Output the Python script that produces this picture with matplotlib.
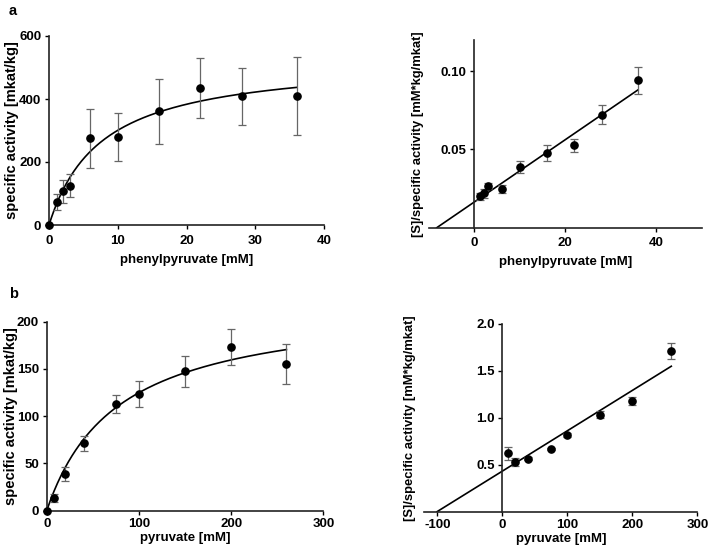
import numpy as np
import matplotlib
matplotlib.use("Agg")
import matplotlib.pyplot as plt

plt.rcParams["font.family"] = ["Liberation Sans", "DejaVu Sans"]
plt.rcParams["font.weight"] = "bold"
plt.rcParams["axes.labelweight"] = "bold"
plt.rcParams["font.size"] = 9.5
plt.rcParams["axes.unicode_minus"] = False

# ---------- dados: fenilpiruvato ----------
phe_s = [0, 1.2, 2, 3, 6, 10, 16, 22, 28, 36]
phe_v = [0, 72, 107, 125, 275, 280, 361, 436, 408, 410]
phe_err = [0, 25, 37, 37, 93, 77, 103, 95, 91, 123]
phe_vmax, phe_km = 529, 7.6

phe_hw_s = [1.2, 2, 3, 6, 10, 16, 22, 28, 36]
phe_hw = [0.0202, 0.0219, 0.0266, 0.0245, 0.0389, 0.0479, 0.0526, 0.0723, 0.0943]
phe_hw_err = [0.0023, 0.003, 0.002, 0.0025, 0.004, 0.0052, 0.0043, 0.0062, 0.0087]
phe_hw_slope, phe_hw_icpt = 0.00199, 0.0165

# ---------- dados: piruvato ----------
pyr_s = [0, 8, 20, 40, 75, 100, 150, 200, 260]
pyr_v = [0, 13.4, 38.8, 71.3, 112.9, 123.5, 147.4, 173, 155.6]
pyr_err = [0, 4.6, 7.8, 7.8, 9.2, 14.2, 16.5, 19, 21]
pyr_vmax, pyr_km = 221, 77

pyr_hw_s = [8, 20, 40, 75, 100, 150, 200, 260]
pyr_hw = [0.623, 0.534, 0.566, 0.669, 0.82, 1.032, 1.178, 1.712]
pyr_hw_err = [0.07, 0.043, 0.02, 0.015, 0.02, 0.036, 0.046, 0.09]
pyr_hw_slope, pyr_hw_icpt = 0.0043, 0.432

fig = plt.figure(figsize=(7.09, 5.53), dpi=100)
W, H = 709, 553


def eixo(left, top, right, bottom):
    return fig.add_axes([left / W, 1 - bottom / H, (right - left) / W, (bottom - top) / H])


def pontos(ax, x, y, err):
    ax.errorbar(x, y, yerr=err, fmt="none", ecolor="#666666", elinewidth=0.9,
                capsize=3.2, capthick=0.9, zorder=2, clip_on=False)
    ax.plot(x, y, "o", color="black", markersize=5.2, zorder=3, clip_on=False)


def estilo(ax, xpad=2.5):
    for s in ["top", "right"]:
        ax.spines[s].set_visible(False)
    for s in ["left", "bottom"]:
        ax.spines[s].set_linewidth(1.2)
        ax.spines[s].set_color("#222222")
    ax.tick_params(length=3, width=1.0, pad=2.5, colors="black")
    ax.tick_params(axis="x", pad=xpad)


# ---------- a: Michaelis-Menten ----------
ax1 = eixo(49, 36, 324, 225)
pontos(ax1, phe_s, phe_v, phe_err)
xs = np.linspace(0, max(phe_s), 200)
ax1.plot(xs, phe_vmax * xs / (phe_km + xs), color="black", lw=1.2, zorder=1)
ax1.set_xlim(0, 40)
ax1.set_ylim(0, 600)
ax1.set_xticks([0, 10, 20, 30, 40])
ax1.set_yticks([0, 200, 400, 600])
ax1.set_xlabel("phenylpyruvate [mM]", labelpad=4.5)
ax1.set_ylabel("specific activity [mkat/kg]", fontsize=10.5)
ax1.yaxis.set_label_coords(-0.108, 0.5)
estilo(ax1, xpad=4.5)

# ---------- a: Hanes-Woolf ----------
ax2 = eixo(429, 40, 701.7, 227.7)
pontos(ax2, phe_hw_s, phe_hw, phe_hw_err)
x0 = -phe_hw_icpt / phe_hw_slope
xl = np.array([x0, max(phe_hw_s)])
ax2.plot(xl, phe_hw_slope * xl + phe_hw_icpt, color="black", lw=1.2, zorder=1)
ax2.set_xlim(-10, 50)
ax2.set_ylim(0, 0.12)
ax2.set_xticks([0, 20, 40])
ax2.set_yticks([0.05, 0.10])
ax2.set_yticklabels(["0.05", "0.10"])
ax2.set_xlabel("phenylpyruvate [mM]", labelpad=4.5)
ax2.set_ylabel("[S]/specific activity [mM*kg/mkat]", fontsize=9.4)
ax2.yaxis.set_label_coords(-0.018, 0.5)
estilo(ax2, xpad=4)
ax2.spines["left"].set_position(("data", 0))

# ---------- b: Michaelis-Menten ----------
ax3 = eixo(46.7, 321.7, 323.3, 510.7)
pontos(ax3, pyr_s, pyr_v, pyr_err)
xs = np.linspace(0, max(pyr_s), 200)
ax3.plot(xs, pyr_vmax * xs / (pyr_km + xs), color="black", lw=1.2, zorder=1)
ax3.set_xlim(0, 300)
ax3.set_ylim(0, 200)
ax3.set_xticks([0, 100, 200, 300])
ax3.set_yticks([0, 50, 100, 150, 200])
ax3.set_xlabel("pyruvate [mM]", labelpad=1.5)
ax3.set_ylabel("specific activity [mkat/kg]", fontsize=10.5)
ax3.yaxis.set_label_coords(-0.105, 0.5)
estilo(ax3)

# ---------- b: Hanes-Woolf ----------
ax4 = eixo(424.3, 324, 697.3, 511.7)
pontos(ax4, pyr_hw_s, pyr_hw, pyr_hw_err)
x0 = -pyr_hw_icpt / pyr_hw_slope
xl = np.array([x0, max(pyr_hw_s)])
ax4.plot(xl, pyr_hw_slope * xl + pyr_hw_icpt, color="black", lw=1.2, zorder=1)
ax4.set_xlim(-120, 300)
ax4.set_ylim(0, 2.0)
ax4.set_xticks([-100, 0, 100, 200, 300])
ax4.set_yticks([0.5, 1.0, 1.5, 2.0])
ax4.set_yticklabels(["0.5", "1.0", "1.5", "2.0"])
ax4.set_xlabel("pyruvate [mM]", labelpad=1.5)
ax4.set_ylabel("[S]/specific activity [mM*kg/mkat]", fontsize=9.4)
ax4.yaxis.set_label_coords(-0.03, 0.5)
estilo(ax4)
ax4.spines["left"].set_position(("data", 0))

# rótulos dos painéis
fig.text(9 / W, 1 - 15 / H, "a", fontsize=10.5, fontweight="bold")
fig.text(9 / W, 1 - 298 / H, "b", fontsize=10.5, fontweight="bold")

fig.savefig("out.png", dpi=100)
